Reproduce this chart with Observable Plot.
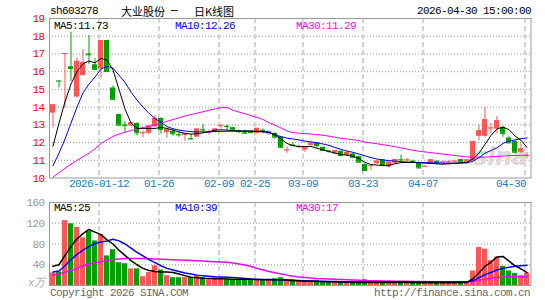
<!DOCTYPE html>
<html><head><meta charset="utf-8">
<script src="https://cdn.jsdelivr.net/npm/d3@7"></script>
<script src="https://cdn.jsdelivr.net/npm/@observablehq/plot@0.6"></script>
<style>
body{margin:0;background:#fff;}
#wrap{position:relative;width:545px;height:300px;overflow:hidden;font-family:"Liberation Mono","DejaVu Sans Mono",monospace;}
#wrap svg{position:absolute;left:0;background:transparent;}
#wrap svg text{letter-spacing:-0.6px;}
.t{position:absolute;white-space:nowrap;font-size:11px;letter-spacing:-0.6px;line-height:12px;}
.cjk{position:absolute;white-space:nowrap;font-family:"Noto Sans CJK SC",sans-serif;font-size:11px;line-height:12px;}
</style></head><body><div id="wrap"></div>
<script>
// ---- data ----
const dates = ["2025-12-29","2025-12-30","2025-12-31","2026-01-05","2026-01-06","2026-01-07","2026-01-08","2026-01-09",
"2026-01-12","2026-01-13","2026-01-14","2026-01-15","2026-01-16","2026-01-19","2026-01-20","2026-01-21","2026-01-22","2026-01-23",
"2026-01-26","2026-01-27","2026-01-28","2026-01-29","2026-01-30","2026-02-02","2026-02-03","2026-02-04","2026-02-05","2026-02-06",
"2026-02-09","2026-02-10","2026-02-11","2026-02-12","2026-02-13","2026-02-24","2026-02-25","2026-02-26","2026-02-27",
"2026-03-02","2026-03-03","2026-03-04","2026-03-05","2026-03-06","2026-03-09","2026-03-10","2026-03-11","2026-03-12","2026-03-13",
"2026-03-16","2026-03-17","2026-03-18","2026-03-19","2026-03-20","2026-03-23","2026-03-24","2026-03-25","2026-03-26","2026-03-27",
"2026-03-30","2026-03-31","2026-04-01","2026-04-02","2026-04-03","2026-04-07","2026-04-08","2026-04-09","2026-04-10",
"2026-04-13","2026-04-14","2026-04-15","2026-04-16","2026-04-17","2026-04-20","2026-04-21","2026-04-22","2026-04-23","2026-04-24",
"2026-04-27","2026-04-28","2026-04-29","2026-04-30"];

const open  = [13.66,15.48,17.01,16.28,14.57,15.78,17.00,16.39,16.16,17.76,15.08,13.58,13.00,12.94,13.08,12.52,12.52,12.89,13.36,12.55,
12.63,12.46,12.39,12.23,12.30,12.74,12.56,12.58,12.93,12.92,12.84,12.65,12.55,12.60,12.52,12.70,12.48,12.52,12.33,11.55,
11.86,11.75,11.58,11.83,11.98,11.73,11.52,11.36,11.51,11.27,11.36,11.21,10.76,10.68,10.80,11.02,10.61,10.83,11.04,11.00,
10.95,10.84,10.63,10.83,10.95,10.88,10.90,10.93,11.04,10.89,10.98,12.35,12.35,12.80,12.76,12.86,12.26,12.07,11.45,11.25];
const high  = [14.16,15.49,17.02,18.22,16.78,17.25,18.04,16.75,17.76,17.78,15.20,13.60,13.17,13.12,13.12,12.64,12.95,13.54,13.40,12.76,
12.73,12.57,12.50,12.48,12.80,13.04,12.71,12.80,13.04,12.99,12.86,12.70,12.70,12.64,12.82,12.76,12.65,12.55,12.35,11.77,
11.99,11.85,11.75,11.98,12.00,11.75,11.55,11.57,11.53,11.47,11.38,11.23,10.80,10.76,10.97,11.04,10.90,11.06,11.30,11.10,
11.00,10.88,10.70,11.04,10.97,10.95,10.97,11.00,11.06,11.04,12.05,12.99,13.98,13.08,13.48,12.88,12.33,12.08,11.93,11.45];
const low   = [12.82,15.08,13.94,15.45,14.50,15.75,16.39,16.10,15.64,16.00,14.36,12.95,12.57,12.90,12.38,12.27,12.45,12.85,12.48,12.24,
12.35,12.30,12.07,12.15,12.28,12.52,12.43,12.55,12.76,12.67,12.68,12.50,12.48,12.48,12.48,12.50,12.40,12.20,11.64,11.39,
11.80,11.65,11.45,11.80,11.70,11.50,11.40,11.32,11.22,11.20,11.15,10.86,10.38,10.42,10.78,10.70,10.55,10.80,10.90,10.90,
10.88,10.50,10.60,10.80,10.82,10.83,10.85,10.88,10.86,10.86,10.98,12.11,12.30,12.48,12.48,12.30,11.95,11.42,11.38,11.08];
const close = [14.13,15.47,17.02,16.18,16.58,16.50,16.95,16.13,17.76,16.01,14.44,12.98,12.97,13.11,12.55,12.55,12.93,13.36,12.74,12.74,
12.50,12.43,12.48,12.20,12.76,12.71,12.58,12.76,12.95,12.90,12.71,12.62,12.52,12.57,12.80,12.67,12.63,12.30,11.73,11.58,
11.83,11.77,11.73,11.96,11.83,11.55,11.49,11.55,11.27,11.45,11.17,10.89,10.42,10.70,10.95,10.76,10.89,11.04,11.02,11.02,
10.93,10.57,10.65,11.02,10.85,10.90,10.92,10.95,10.89,11.02,12.05,12.67,13.29,12.82,13.23,12.52,11.98,11.45,11.64,11.27];
// volume, 10k shares
const volume = [24,26,125,119,112,92,104,86,98,57,69,44,42,32,32,17,25,38,30,19,
15,15,15.5,15,19,15,11,15,15,11,11,11,11,11,9,9,11,13,15,11,
11,8,9,9,10,8,7,8,7,7,8,8,11,7,6,6,6,7,8,6,
5,6,5,6,5,5,5,5,6,6,28,73.5,70,48,55,37,28,23,19,24];

const ma5  = [11.8,13.1,14.3,15.3,16.0,16.45,16.6,16.5,16.75,16.65,16.1,15.0,13.9,13.1,12.8,12.8,12.8,12.8,12.85,12.8,
12.7,12.6,12.52,12.48,12.5,12.55,12.62,12.7,12.72,12.7,12.67,12.66,12.66,12.66,12.64,12.62,12.58,12.42,12.2,11.95,
11.82,11.78,11.78,11.78,11.68,11.58,11.5,11.4,11.33,11.29,11.22,11.1,10.88,10.76,10.73,10.7,10.72,10.8,10.87,10.88,
10.88,10.86,10.84,10.82,10.8,10.78,10.8,10.83,10.86,10.88,11.07,11.4,11.9,12.4,12.77,12.87,12.73,12.37,12.13,11.73];
const ma10 = [10.7,11.4,12.2,13.1,14.0,14.8,15.3,15.7,16.15,16.3,16.2,15.8,15.4,14.85,14.4,14.0,13.65,13.35,13.15,12.9,
12.78,12.7,12.65,12.62,12.6,12.6,12.6,12.62,12.63,12.64,12.64,12.64,12.63,12.63,12.62,12.6,12.57,12.45,12.33,12.25,
12.2,12.15,12.08,12.04,11.98,11.92,11.84,11.72,11.62,11.52,11.45,11.35,11.25,11.15,11.07,11.02,10.98,10.95,10.92,10.9,
10.88,10.88,10.87,10.86,10.85,10.84,10.84,10.84,10.84,10.85,10.95,11.15,11.4,11.55,11.7,11.95,12.08,12.15,12.22,12.26];
const ma30 = [10.05,10.3,10.55,10.78,11.0,11.2,11.4,11.65,11.95,12.15,12.35,12.48,12.58,12.68,12.76,12.85,12.92,13.0,13.1,13.2,
13.3,13.4,13.5,13.58,13.66,13.74,13.82,13.9,13.97,13.98,13.82,13.72,13.62,13.52,13.42,13.3,13.12,12.98,12.82,12.65,
12.56,12.53,12.5,12.48,12.44,12.41,12.36,12.3,12.24,12.2,12.16,12.12,12.02,11.98,11.93,11.88,11.82,11.77,11.7,11.63,
11.56,11.51,11.47,11.43,11.39,11.35,11.31,11.27,11.23,11.19,11.17,11.17,11.18,11.2,11.22,11.24,11.26,11.27,11.28,11.29];
const vma5  = [37,40,58,75,90,100,108,103,98,88,80,68,58,48,40,33,29,27,26,26,
25,22,19,16,15,14,13.5,13,13,12.5,12,12,12,12,11,11,11,11,11,10,
9,9,8,8,7.5,7,7,7,6.5,6.5,6,6,6,6,6,6,6,6,6,6,
6,5.5,5.5,5.5,5.5,5.5,5.5,5.5,6,6,13,24,37,45,55,56,47,38,32,25];
const vma10 = [26,28,38,50,60,68,75,81,84,86,89,86,80,72,64,57,50,44,38,33,
30,27,24,22,20,19,18,17,16.5,16,15.5,14.5,13.5,12.5,12,11.5,11.5,11,11,10.5,
10,9.5,9,8.5,8,8,7.5,7.5,7,7,7,7,7,7,7,7,7,7,7,7,
7,7,7,7,7,7,7,7,7,7,9,15,21,25,30,33,35,37,38,39];
const vma30 = [20,22,26,29,33,38,41,44,46,48,50,51,52,52,52,52,51.5,51,50.5,50,
49.5,49,48.5,48,47.5,47,46.5,46,45.5,45,43.5,41.5,39.5,36.5,33,30,27,24.5,22,20,
18,16.5,15.5,14.5,13.5,13,12.5,12,11.5,11,10.5,10,9.5,9.3,9,8.8,8.6,8.4,8.2,8,
7.8,7.6,7.5,7.4,7.3,7.2,7.1,7,7,7,7.5,10,12.3,13.8,15.5,16.3,16.8,17,17,17];

const priceTicks = [10,11,12,13,14,15,16,17,18,19];
const volTicks = [40,80,120,160];
const dateTicks = ["2026-01-12","2026-01-26","2026-02-09","2026-02-25","2026-03-09","2026-03-23","2026-04-07","2026-04-30"];
const dateTickLabels = ["2026-01-12","01-26","02-09","02-25","03-09","03-23","04-07","04-30"];

// ---- build ----
const RED = "#ff5555", GREEN = "#00a000";
const rows = dates.map((d, i) => ({i, d, o: open[i], h: high[i], l: low[i], c: close[i], v: volume[i], up: close[i] >= open[i]}));
const col = d => d.up ? RED : GREEN;
const tickIdx = dateTicks.map(d => dates.indexOf(d));
const HW = 0.4167;
const xScale = {type: "linear", domain: [-0.5833, 79.6667], axis: null};
const font = {fontFamily: "Liberation Mono, DejaVu Sans Mono, monospace", fontSize: "11px", background: "transparent", overflow: "visible"};

const price = Plot.plot({
  width: 545, height: 196, marginLeft: 49, marginRight: 14.5, marginTop: 18, marginBottom: 18.5,
  x: xScale, y: {domain: [10, 19], axis: null}, style: font,
  marks: [
    Plot.ruleY(priceTicks.slice(1, -1), {y: d => d, stroke: "#999", strokeDasharray: "1,2"}),
    Plot.ruleX(tickIdx, {x: d => d, dx: -2, stroke: "#aaa", strokeDasharray: "5,3"}),
    Plot.text(["sina"], {frameAnchor: "bottom-right", dx: -4, dy: -13, fill: "#e2d6d6", fontSize: 24, fontWeight: "bold", fontStyle: "italic", fontFamily: "DejaVu Sans"}),
    Plot.ruleX(rows, {x: "i", y1: "l", y2: "h", stroke: col}),
    Plot.rect(rows, {x1: d => d.i - HW, x2: d => d.i + HW, y1: "o", y2: "c", fill: col}),
    Plot.ruleY(rows, {x1: d => d.i - HW, x2: d => d.i + HW, y: "c", stroke: col}),
    Plot.line(rows, {x: "i", y: d => ma30[d.i], stroke: "#ff00ff", strokeWidth: 1}),
    Plot.line(rows, {x: "i", y: d => ma10[d.i], stroke: "#0000ff", strokeWidth: 1}),
    Plot.line(rows, {x: "i", y: d => ma5[d.i], stroke: "#000", strokeWidth: 1}),
    Plot.frame({stroke: "#999"}),
    Plot.text(priceTicks, {y: d => d, text: d => String(d), frameAnchor: "left", textAnchor: "end", dx: -5, fill: "#ff0000"}),
    Plot.text(tickIdx.slice(0, -1), {x: d => d, text: (d, i) => dateTickLabels[i], frameAnchor: "bottom", dy: 9, dx: -2, fill: "#0a80d0"}),
    Plot.text(tickIdx.slice(-1), {x: d => d, text: () => dateTickLabels[dateTickLabels.length - 1], frameAnchor: "bottom", dy: 9, dx: -1, textAnchor: "end", fill: "#0a80d0"})
  ]
});
price.style.top = "0px";

const vol = Plot.plot({
  width: 545, height: 110, marginLeft: 49, marginRight: 14.5, marginTop: 12, marginBottom: 15,
  x: xScale, y: {domain: [0, 160], axis: null}, style: font,
  marks: [
    Plot.ruleY(volTicks.slice(0, -1), {y: d => d, stroke: "#999", strokeDasharray: "1,2"}),
    Plot.ruleX(tickIdx, {x: d => d, dx: -2, stroke: "#aaa", strokeDasharray: "5,3"}),
    Plot.rect(rows, {x1: d => d.i - HW, x2: d => d.i + HW, y1: 0, y2: "v", fill: col}),
    Plot.line(rows, {x: "i", y: d => vma30[d.i], stroke: "#ff00ff"}),
    Plot.line(rows, {x: "i", y: d => vma10[d.i], stroke: "#0000ff"}),
    Plot.line(rows, {x: "i", y: d => vma5[d.i], stroke: "#000"}),
    Plot.frame({stroke: "#999"}),
    Plot.text(volTicks, {y: d => d, text: d => String(d), frameAnchor: "left", textAnchor: "end", dx: -5, fill: "#999"}),
    Plot.text(["x万"], {frameAnchor: "bottom-left", textAnchor: "end", dx: -5, fill: "#aaa", fontStyle: "italic"})
  ]
});
vol.style.top = "190px";

const wrap = document.getElementById("wrap");
wrap.appendChild(price);
wrap.appendChild(vol);

function label(txt, css, cls = "t") {
  const el = document.createElement("div");
  el.className = cls;
  el.textContent = txt;
  Object.assign(el.style, css);
  wrap.appendChild(el);
}
label("sh603278", {left: "50px", top: "5px", color: "#000"});
label("大业股份", {left: "121px", top: "5px", color: "#000"}, "cjk");
label("–", {left: "171px", top: "4px", color: "#000", fontFamily: "Liberation Sans", fontSize: "12px"}, "cjk");
label("日K线图", {left: "194px", top: "5px", color: "#000"}, "cjk");
label("2026-04-30 15:00:00", {right: "14px", top: "5px", color: "#000"});
label("MA5:" + ma5[ma5.length - 1].toFixed(2), {left: "54px", top: "20px", color: "#000"});
label("MA10:" + ma10[ma10.length - 1].toFixed(2), {left: "175px", top: "20px", color: "#0000ff"});
label("MA30:" + ma30[ma30.length - 1].toFixed(2), {left: "296px", top: "20px", color: "#ff00ff"});
label("MA5:" + Math.round(vma5[vma5.length - 1]), {left: "54px", top: "202px", color: "#000"});
label("MA10:" + Math.round(vma10[vma10.length - 1]), {left: "175px", top: "202px", color: "#0000ff"});
label("MA30:" + Math.round(vma30[vma30.length - 1]), {left: "296px", top: "202px", color: "#ff00ff"});
label("Copyright 2026 SINA.COM", {left: "50px", top: "287px", color: "#666"});
label("http://finance.sina.com.cn", {right: "15px", top: "287px", color: "#666"});
</script>
</body></html>
